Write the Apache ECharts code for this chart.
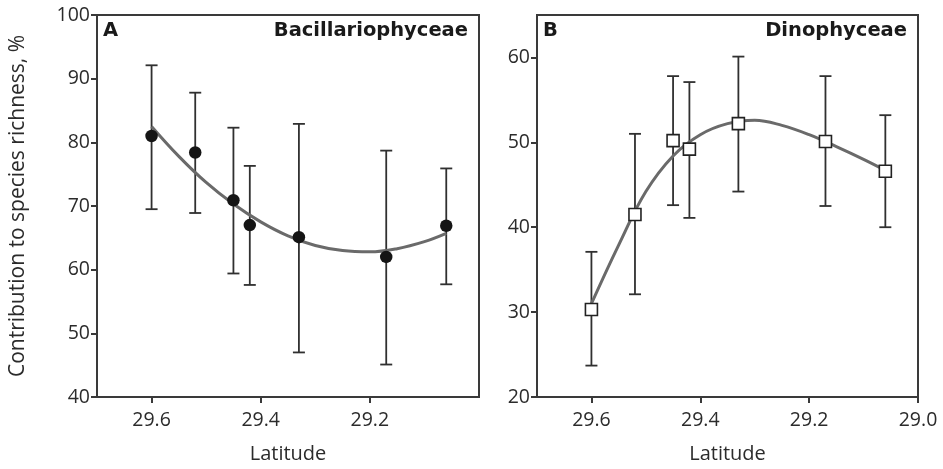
<!DOCTYPE html>
<html>
<head>
<meta charset="utf-8">
<script src="https://cdn.jsdelivr.net/npm/echarts@6/dist/echarts.min.js"></script>
<style>
  html, body { margin: 0; padding: 0; background: #fff; }
  #main { width: 943px; height: 469px; }
</style>
</head>
<body>
<div id="main"></div>
<script>
// station latitudes (shared by both panels)
var latitudes = [29.6, 29.52, 29.45, 29.42, 29.33, 29.17, 29.06];

// A - Bacillariophyceae
var bacMean  = [81.0, 78.4, 70.9, 67.0, 65.1, 62.0, 66.9];
var bacUpper = [92.1, 87.8, 82.3, 76.3, 82.9, 78.7, 75.9];
var bacLower = [69.5, 68.9, 59.4, 57.6, 47.0, 45.1, 57.7];
// fitted trend
var bacFitLat = [29.6, 29.55, 29.5, 29.45, 29.4, 29.35, 29.3, 29.25, 29.2, 29.15, 29.1, 29.06];
var bacFitVal = [82.5, 77.8, 73.7, 70.3, 67.5, 65.3, 63.8, 63.0, 62.8, 63.3, 64.4, 65.7];

// B - Dinophyceae
var dinoMean  = [30.3, 41.5, 50.2, 49.2, 52.2, 50.1, 46.6];
var dinoUpper = [37.1, 51.0, 57.8, 57.1, 60.1, 57.8, 53.2];
var dinoLower = [23.7, 32.1, 42.6, 41.1, 44.2, 42.5, 40.0];
var dinoFitLat = [29.6, 29.55, 29.5, 29.45, 29.4, 29.35, 29.3, 29.25, 29.2, 29.15, 29.1, 29.06];
var dinoFitVal = [31.0, 37.9, 44.2, 48.4, 50.9, 52.2, 52.6, 52.0, 50.9, 49.5, 48.0, 46.7];

var FONT = 'Open Sans';
var BOLD = 'DejaVu Sans';
var INK = '#2b2b2b';
var FRAME = '#3a3a3a';

function pairs(xs, ys) {
  return xs.map(function (x, i) { return [x, ys[i]]; });
}
function bars(xs, up, lo) {
  return xs.map(function (x, i) { return [x, up[i], lo[i]]; });
}

function errorBarItem(params, api) {
  var top = api.coord([api.value(0), api.value(1)]);
  var bot = api.coord([api.value(0), api.value(2)]);
  var half = 6;
  var st = { stroke: '#303030', lineWidth: 1.8 };
  return {
    type: 'group',
    children: [
      { type: 'line', shape: { x1: top[0], y1: top[1], x2: bot[0], y2: bot[1] }, style: st },
      { type: 'line', shape: { x1: top[0] - half, y1: top[1], x2: top[0] + half, y2: top[1] }, style: st },
      { type: 'line', shape: { x1: bot[0] - half, y1: bot[1], x2: bot[0] + half, y2: bot[1] }, style: st }
    ]
  };
}

function xAxisOf(idx, hideMin) {
  return {
    type: 'value', gridIndex: idx, inverse: true,
    min: 29.0, max: 29.7, interval: 0.2,
    name: 'Latitude', nameLocation: 'middle', nameGap: 47,
    nameTextStyle: { fontFamily: FONT, fontSize: 20, color: INK },
    axisLine: { lineStyle: { color: FRAME, width: 2 } },
    axisTick: { length: 6, lineStyle: { color: FRAME, width: 2 } },
    splitLine: { show: false },
    axisLabel: {
      margin: 13, fontFamily: FONT, fontSize: 19.5, color: INK,
      showMaxLabel: false, showMinLabel: !hideMin,
      formatter: function (v) { return v.toFixed(1); }
    }
  };
}

function yAxisOf(idx, min, max, name) {
  return {
    type: 'value', gridIndex: idx, min: min, max: max, interval: 10,
    name: name, nameLocation: 'middle', nameGap: 68,
    nameTextStyle: { fontFamily: FONT, fontSize: 21, color: INK },
    axisLine: { show: true, lineStyle: { color: FRAME, width: 2 } },
    axisTick: { show: true, length: 6, lineStyle: { color: FRAME, width: 2 } },
    splitLine: { show: false },
    axisLabel: {
      margin: 7, fontFamily: FONT, fontSize: 19.5, color: INK,
      showMaxLabel: max % 10 === 0
    }
  };
}

var titleStyle = { fontFamily: BOLD, fontSize: 19.5, fontWeight: 'bold', color: '#1a1a1a' };

var myChart = echarts.init(document.getElementById('main'));

myChart.setOption({
  animation: false,
  title: [
    { text: 'A', left: 103, top: 21, padding: 0, textStyle: titleStyle },
    { text: 'Bacillariophyceae', right: 475, top: 21, padding: 0, textStyle: titleStyle },
    { text: 'B', left: 543, top: 21, padding: 0, textStyle: titleStyle },
    { text: 'Dinophyceae', right: 36, top: 21, padding: 0, textStyle: titleStyle }
  ],
  grid: [
    { left: 97, right: 464, top: 15, bottom: 72, show: true, borderColor: FRAME, borderWidth: 2 },
    { left: 537, right: 25, top: 15, bottom: 72, show: true, borderColor: FRAME, borderWidth: 2 }
  ],
  xAxis: [xAxisOf(0, true), xAxisOf(1, false)],
  yAxis: [
    yAxisOf(0, 40, 100, 'Contribution to species richness, %'),
    yAxisOf(1, 20, 65, '')
  ],
  series: [
    {
      type: 'custom', xAxisIndex: 0, yAxisIndex: 0, z: 2,
      renderItem: errorBarItem, encode: { x: 0, y: [1, 2] },
      data: bars(latitudes, bacUpper, bacLower)
    },
    {
      type: 'line', xAxisIndex: 0, yAxisIndex: 0, z: 3,
      smooth: 0.4, showSymbol: false,
      lineStyle: { color: '#6a6a6a', width: 3 },
      data: pairs(bacFitLat, bacFitVal)
    },
    {
      type: 'scatter', xAxisIndex: 0, yAxisIndex: 0, z: 4,
      symbol: 'circle', symbolSize: 12.5,
      itemStyle: { color: '#151515', opacity: 1 },
      data: pairs(latitudes, bacMean)
    },
    {
      type: 'custom', xAxisIndex: 1, yAxisIndex: 1, z: 2,
      renderItem: errorBarItem, encode: { x: 0, y: [1, 2] },
      data: bars(latitudes, dinoUpper, dinoLower)
    },
    {
      type: 'line', xAxisIndex: 1, yAxisIndex: 1, z: 3,
      smooth: 0.4, showSymbol: false,
      lineStyle: { color: '#6a6a6a', width: 3 },
      data: pairs(dinoFitLat, dinoFitVal)
    },
    {
      type: 'scatter', xAxisIndex: 1, yAxisIndex: 1, z: 4,
      symbol: 'rect', symbolSize: 12,
      itemStyle: { color: '#fff', borderColor: '#222', borderWidth: 1.6, opacity: 1 },
      data: pairs(latitudes, dinoMean)
    }
  ]
});
</script>
</body>
</html>
